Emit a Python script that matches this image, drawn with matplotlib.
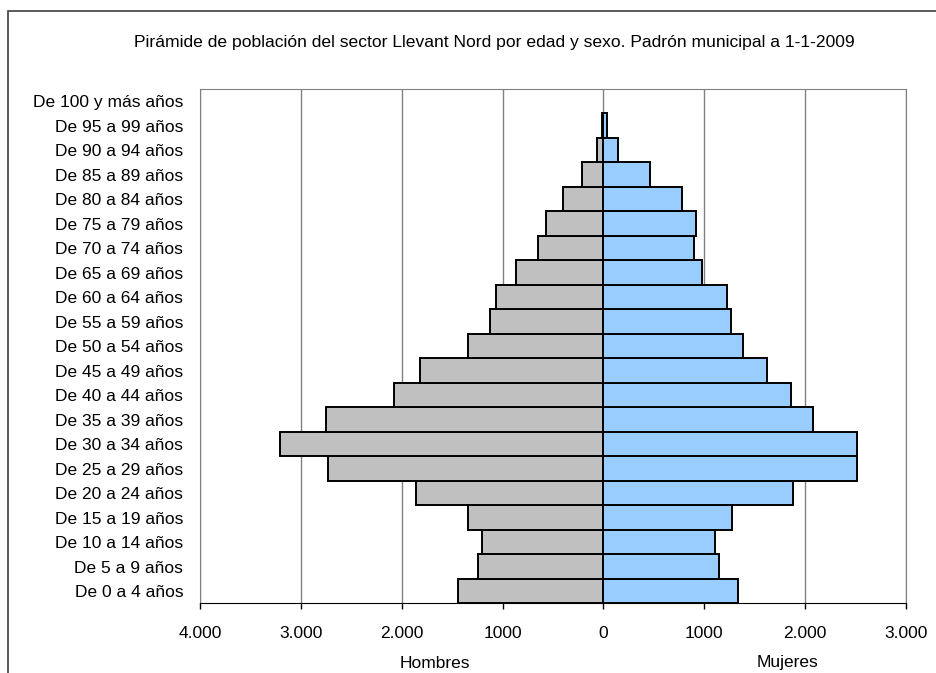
import matplotlib
matplotlib.use('Agg')
import matplotlib.pyplot as plt
from matplotlib.patches import Rectangle

plt.rcParams['font.family'] = ['Liberation Sans', 'DejaVu Sans']

# grupos de edad (de abajo a arriba)
edades = ['De 0 a 4 años', 'De 5 a 9 años', 'De 10 a 14 años', 'De 15 a 19 años',
          'De 20 a 24 años', 'De 25 a 29 años', 'De 30 a 34 años', 'De 35 a 39 años',
          'De 40 a 44 años', 'De 45 a 49 años', 'De 50 a 54 años', 'De 55 a 59 años',
          'De 60 a 64 años', 'De 65 a 69 años', 'De 70 a 74 años', 'De 75 a 79 años',
          'De 80 a 84 años', 'De 85 a 89 años', 'De 90 a 94 años', 'De 95 a 99 años',
          'De 100 y más años']
hombres = [1442, 1244, 1204, 1343, 1857, 2729, 3204, 2749, 2075, 1818, 1343,
           1122, 1062, 867, 650, 570, 396, 214, 60, 16, 0]
mujeres = [1333, 1149, 1106, 1270, 1883, 2511, 2511, 2077, 1860, 1626, 1386,
           1267, 1228, 977, 895, 915, 777, 461, 148, 40, 0]
ticks = [-4000, -3000, -2000, -1000, 0, 1000, 2000, 3000]
tick_labels = ['4.000', '3.000', '2.000', '1000', '0', '1000', '2.000', '3.000']

fig = plt.figure(figsize=(9.37, 6.73), dpi=100)
fig.patches.append(Rectangle((8 / 937, -0.1), 1.2, 1 - 11 / 673 + 0.1,
                             transform=fig.transFigure, fill=False,
                             edgecolor='#404040', linewidth=1.2))
ax = fig.add_axes([200 / 937, 1 - 603.3 / 673, 706 / 937, 514.3 / 673])

y = range(len(edades))
# sin borde para las barras vacías
lw_h = [1.4 if v else 0 for v in hombres]
lw_m = [1.4 if v else 0 for v in mujeres]
ax.barh(y, [-v for v in hombres], height=1, color='#C0C0C0', edgecolor='black',
        linewidth=lw_h, zorder=2)
ax.barh(y, mujeres, height=1, color='#99CCFF', edgecolor='black',
        linewidth=lw_m, zorder=2)

ax.set_xlim(-4000, 3000)
ax.set_ylim(-0.5, len(edades) - 0.5)
ax.set_xticks(ticks)
ax.set_xticklabels(tick_labels, fontsize=12.5)
ax.set_yticks(list(y))
ax.set_yticklabels(edades, fontsize=12.5)
ax.tick_params(axis='y', length=0, pad=12)
ax.tick_params(axis='x', length=4, width=1, color='black', pad=12)
ax.xaxis.grid(True, color='#808080', linewidth=1, zorder=0)
ax.set_axisbelow(True)
for s in ['top', 'right', 'left']:
    ax.spines[s].set_color('#808080')
ax.spines['bottom'].set_color('black')

fig.text(494 / 937, 1 - 42 / 673, 'Pirámide de población del sector Llevant Nord por edad y sexo. Padrón municipal a 1-1-2009',
         ha='center', va='center', fontsize=12.6)
fig.text(435 / 937, 1 - 663 / 673, 'Hombres', ha='center', va='center', fontsize=12.5)
fig.text(788 / 937, 1 - 663 / 673, 'Mujeres', ha='center', va='center', fontsize=12.5)

fig.savefig('out.png', dpi=100)
